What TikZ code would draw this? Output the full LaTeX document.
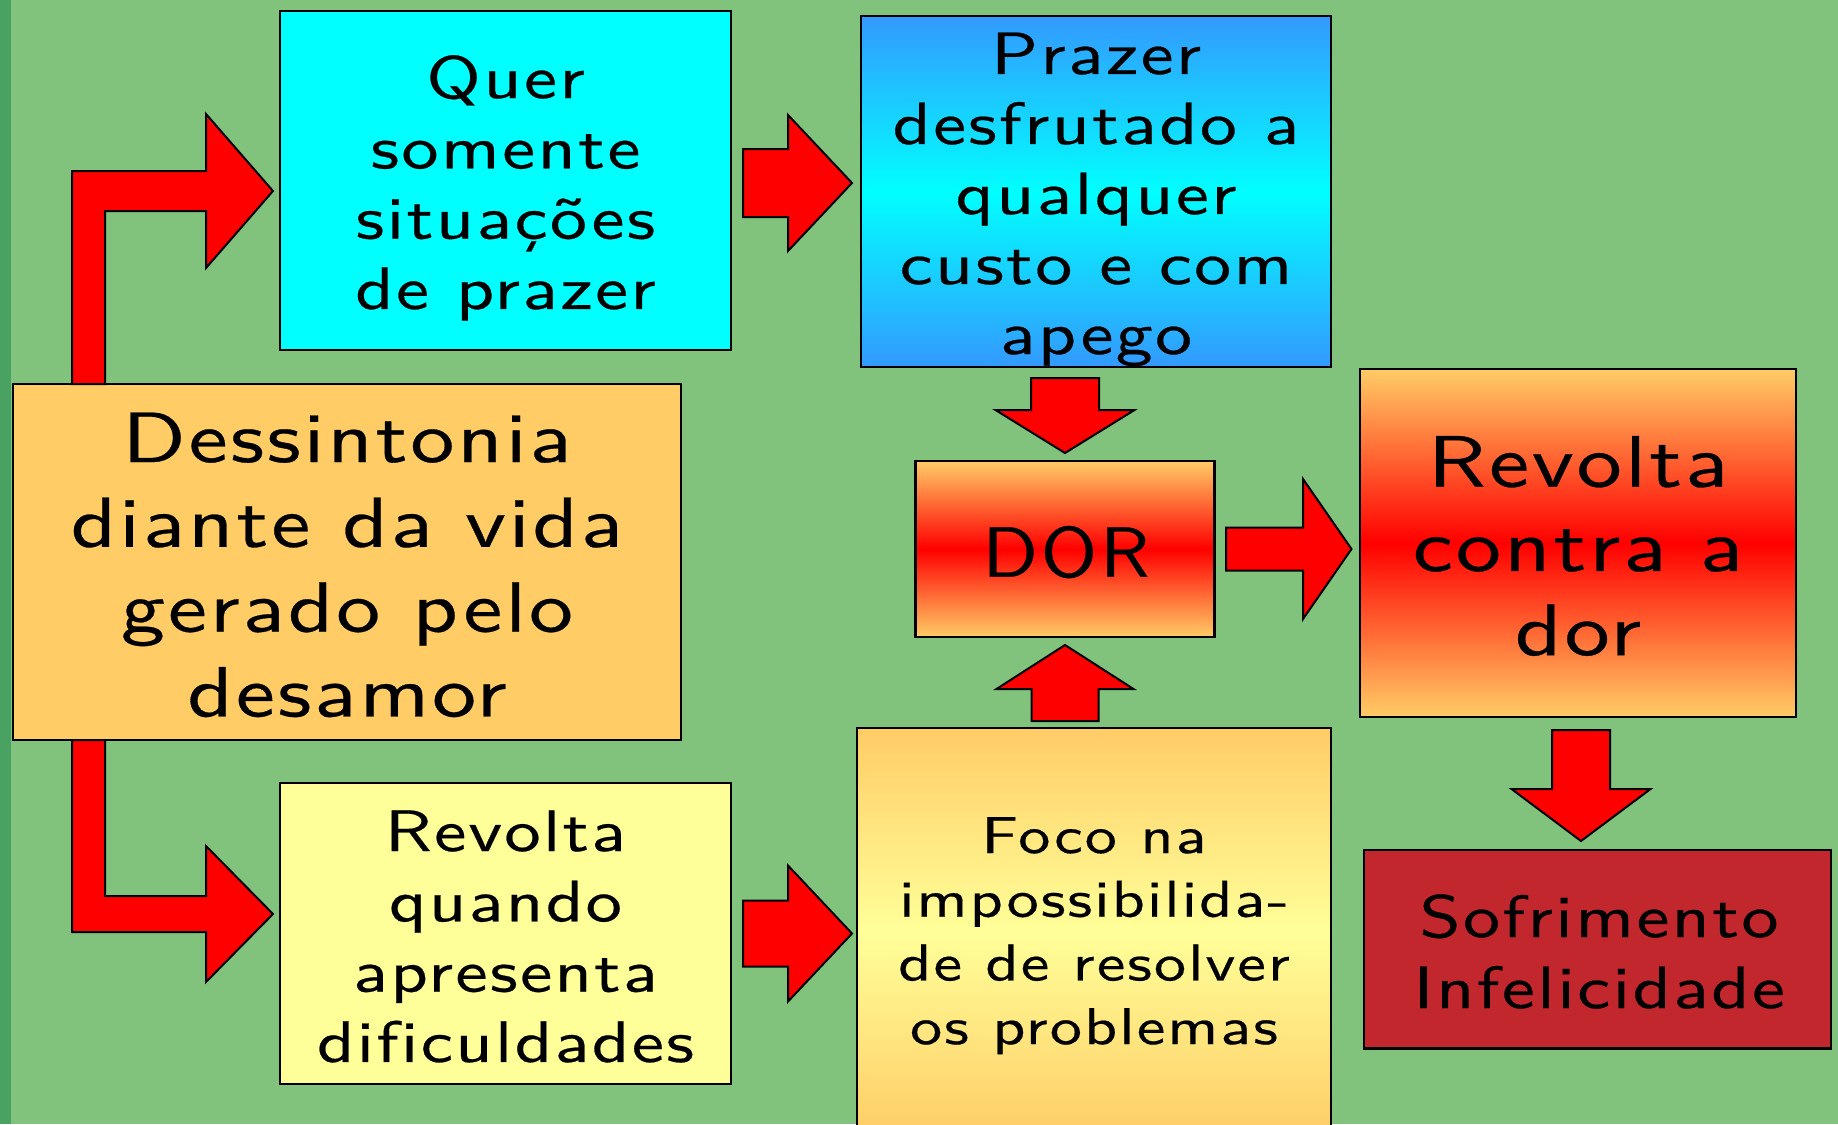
\documentclass[tikz,border=0pt]{standalone}
\usepackage{fontspec}
\usetikzlibrary{calc}
\newfontfamily\boxfont{lmsans10-regular.otf}[FakeStretch=1.24,LetterSpace=4,FakeBold=0.4,Ligatures=NoCommon]
\newfontfamily\dorfont{lmsans10-regular.otf}[FakeStretch=1.08,LetterSpace=4,FakeBold=0.4,Ligatures=NoCommon]
\definecolor{bggreen}{RGB}{129,195,125}
\definecolor{stripgreen}{RGB}{74,162,98}
\definecolor{pale}{RGB}{255,204,102}
\definecolor{lightyellow}{RGB}{255,255,153}
\definecolor{skyblue}{RGB}{51,153,255}
\definecolor{darkred}{RGB}{193,39,45}
\definecolor{aqua}{RGB}{0,255,255}
\newcommand\boxtext[3]{{\boxfont\fontsize{#1}{#2}\selectfont\begin{tabular}[t]{@{}c@{}}#3\end{tabular}}}
\tikzset{
  box/.style={rectangle, draw=black, line width=2.5pt, inner sep=0pt, outer sep=0pt},
  redarrow/.style={fill=red, draw=black, line width=2pt, line join=miter},
  lbl/.style={anchor=base, inner sep=0pt, outer sep=0pt, text=black},
}
% right-pointing block arrow: tail, tip, shaft half width, head half width, head length
\newcommand\harrow[5]{\path[redarrow] let \p1=(#1), \p2=(#2) in
  (\x1,\y1+#3pt) -- (\x2-#5pt,\y1+#3pt) -- (\x2-#5pt,\y1+#4pt) -- (\x2,\y1)
  -- (\x2-#5pt,\y1-#4pt) -- (\x2-#5pt,\y1-#3pt) -- (\x1,\y1-#3pt) -- cycle;}
% down-pointing block arrow
\newcommand\darrow[5]{\path[redarrow] let \p1=(#1), \p2=(#2) in
  (\x1-#3pt,\y1) -- (\x1-#3pt,\y2+#5pt) -- (\x1-#4pt,\y2+#5pt) -- (\x1,\y2)
  -- (\x1+#4pt,\y2+#5pt) -- (\x1+#3pt,\y2+#5pt) -- (\x1+#3pt,\y1) -- cycle;}
% up-pointing block arrow
\newcommand\uarrow[5]{\path[redarrow] let \p1=(#1), \p2=(#2) in
  (\x1-#3pt,\y1) -- (\x1-#3pt,\y2-#5pt) -- (\x1-#4pt,\y2-#5pt) -- (\x1,\y2)
  -- (\x1+#4pt,\y2-#5pt) -- (\x1+#3pt,\y2-#5pt) -- (\x1+#3pt,\y1) -- cycle;}
\begin{document}
\begin{tikzpicture}[x=1pt,y=-1pt]
\useasboundingbox (0,0) rectangle (1838,1124);
\fill[bggreen] (0,0) rectangle (1838,1124);
\fill[stripgreen] (0,0) rectangle (11,1124);

% boxes
\node[box, fill=aqua, minimum width=451pt, minimum height=339pt] (quer) at (505.5,180.5) {};
\node[box, top color=skyblue, bottom color=skyblue, middle color=aqua,
      minimum width=470pt, minimum height=351pt] (prazer) at (1096,191.5) {};
\node[box, fill=pale, minimum width=668pt, minimum height=356pt] (dess) at (347,562) {};
\node[box, top color=pale, bottom color=pale, middle color=red,
      minimum width=299pt, minimum height=176pt] (dor) at (1065,549) {};
\node[box, top color=pale, bottom color=pale, middle color=red,
      minimum width=436pt, minimum height=348pt] (revc) at (1578,543) {};
\node[box, fill=lightyellow, minimum width=451pt, minimum height=301pt] (revq) at (505.5,933.5) {};
\node[box, top color=pale, bottom color=pale, middle color=lightyellow,
      minimum width=474pt, minimum height=408pt] (foco) at (1094,932) {};
\node[box, fill=darkred, minimum width=467pt, minimum height=198.5pt] (sofr) at (1597.5,949.25) {};

% connector end points
\coordinate (a1s) at ($(quer.east)+(12,2.5)$);
\coordinate (a1e) at ($(a1s -| prazer.west)+(-9,0)$);
\coordinate (a2s) at ($(dor.north |- prazer.south)+(0,11)$);
\coordinate (a2e) at ($(dor.north)+(0,-8)$);
\coordinate (a3s) at ($(dor.south |- foco.north)+(0,-7)$);
\coordinate (a3e) at ($(dor.south)+(0,8)$);
\coordinate (a4s) at ($(dor.east)+(11.5,0)$);
\coordinate (a4e) at ($(a4s -| revc.west)+(-8.5,0)$);
\coordinate (a5s) at ($(revc.south)+(3,13)$);
\coordinate (a5e) at ($(a5s |- sofr.north)+(0,-9)$);
\coordinate (a6s) at ($(revq.east)+(12,0)$);
\coordinate (a6e) at ($(a6s -| foco.west)+(-5,0)$);
\coordinate (b1s) at ($(dess.north west)+(75.5,0)$);
\coordinate (b1e) at ($(quer.west)+(-7,10.5)$);
\coordinate (b2s) at ($(dess.south west)+(75.5,0)$);
\coordinate (b2e) at ($(revq.west)+(-7,-19.5)$);

% block arrows
\harrow{a1s}{a1e}{34}{68}{64}
\darrow{a2s}{a2e}{34}{69.5}{43}
\uarrow{a3s}{a3e}{33.5}{68.5}{44}
\harrow{a4s}{a4e}{21.5}{70}{48.5}
\darrow{a5s}{a5e}{29}{69.5}{52}
\harrow{a6s}{a6e}{33}{68}{64}
\path[redarrow] let \p1=(b1s), \p2=(b1e) in
  (\x1-16.5pt,\y1) -- (\x1-16.5pt,\y2+20pt) -- (\x2-67pt,\y2+20pt) -- (\x2-67pt,\y2+77pt)
  -- (\x2,\y2) -- (\x2-67pt,\y2-77pt) -- (\x2-67pt,\y2-20pt) -- (\x1+16.5pt,\y2-20pt)
  -- (\x1+16.5pt,\y1) -- cycle;
\path[redarrow] let \p1=(b2s), \p2=(b2e) in
  (\x1-16.5pt,\y1) -- (\x1-16.5pt,\y2-18pt) -- (\x2-67pt,\y2-18pt) -- (\x2-67pt,\y2-68pt)
  -- (\x2,\y2) -- (\x2-67pt,\y2+68pt) -- (\x2-67pt,\y2+18pt) -- (\x1+16.5pt,\y2+18pt)
  -- (\x1+16.5pt,\y1) -- cycle;

% texts
\node[lbl] (querT) at (505.5,98) {\boxtext{59.8}{70.3}{Quer\\somente\\situações\\de prazer}};
\node[lbl] (prazerT) at (1096,74) {\boxtext{59.6}{70}{Prazer\\desfrutado a\\qualquer\\custo e com\\apego}};
\node[lbl] (dessT) at (347,462) {\boxtext{71}{84.8}{Dessintonia\\diante da vida\\gerado pelo\\desamor}};
\node[lbl] (dorT) at (1066,576.7) {\dorfont\fontsize{71}{85}\selectfont DOR};
\node[lbl] (revcT) at (1578,486.7) {\boxtext{73}{84.2}{Revolta\\contra a\\dor}};
\node[lbl] (revqT) at (505.5,851) {\boxtext{58.5}{70.3}{Revolta\\quando\\apresenta\\dificuldades}};
\node[lbl] (focoT) at (1094,853) {\boxtext{51.8}{63.7}{Foco na\\impossibilida-\\de de resolver\\os problemas}};
\node[lbl] (sofrT) at (1599,937) {\boxtext{59.7}{71}{Sofrimento\\Infelicidade}};
\end{tikzpicture}
\end{document}
